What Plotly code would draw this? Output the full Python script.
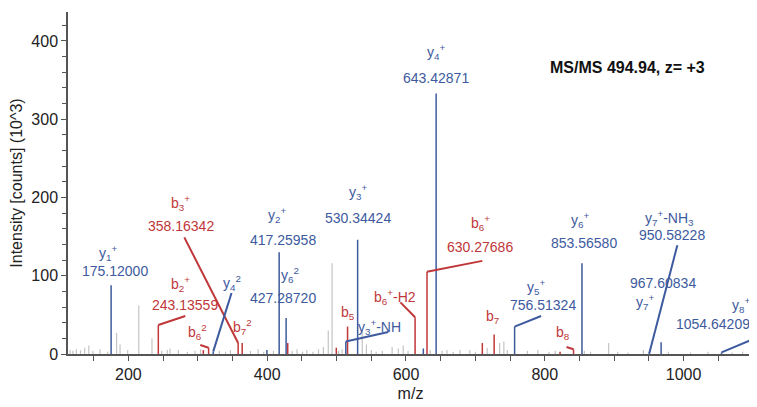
import plotly.graph_objects as go

# ---------------- data (m/z, intensity x10^3) ----------------
gray_mz = [116, 120, 125, 131, 137, 143, 149, 159, 170, 183, 188, 199, 215, 234, 248,
           256, 260, 272, 285, 296, 304, 331, 340, 347, 376, 387, 395, 409, 436, 443,
           451, 457, 466, 474, 481, 488, 493.5, 503, 508, 537, 543, 550, 557, 566, 580,
           589, 596, 603, 635, 652, 659, 668, 678, 692, 700, 717, 735, 741, 746, 775,
           790, 806, 815, 857, 866, 892, 905, 920, 942, 978, 1010, 1035, 1070, 1085]
gray_int = [5, 4, 6, 5, 8, 11, 4, 6, 3, 27, 12, 5, 62, 20, 4,
            5, 7, 5, 3, 4, 6, 4, 3, 5, 4, 6, 3, 4, 4, 6,
            3, 5, 3, 6, 9, 30, 116, 4, 6, 30, 12, 5, 3, 4, 9,
            7, 11, 4, 5, 4, 5, 3, 5, 5, 3, 8, 14, 16, 5, 4,
            5, 3, 4, 4, 3, 14, 3, 2, 5, 3, 2, 3, 2, 3]

blue_mz = [175.12, 322.2, 399.6, 417.26, 427.29, 513.3, 530.34, 625, 643.43, 756.51,
           853.57, 950.58, 967.61, 1054.64]
blue_int = [88, 3, 5, 130, 46, 16, 146, 7, 333, 35, 116, 2, 15, 2]

red_mz = [243.14, 308, 315.6, 358.16, 364, 429.6, 499.6, 515.8, 613.1, 630.28, 710,
          727, 822, 841.4]
red_int = [37, 5, 8, 14, 14, 14, 8, 35, 47, 105, 14, 25, 3, 6]

# leader lines: (peak m/z, peak intensity) -> (label m/z, label intensity)
blue_lead_from = [(322.2, 3), (513.3, 16), (756.51, 35), (950.58, 1), (1054.64, 2)]
blue_lead_to = [(348.6, 78), (574.5, 28), (794.7, 48.5), (991, 139), (1100, 19)]
red_lead_from = [(243.14, 37), (358.16, 14), (315.6, 8), (613.1, 47), (630.28, 105), (841.4, 6)]
red_lead_to = [(282, 48.5), (280.6, 149), (303.6, 11.5), (592, 66), (710, 119), (831.3, 9)]

# labels
label_text = ["y<sub>1</sub><sup>+</sup>", "175.12000",
              "b<sub>2</sub><sup>+</sup>", "243.13559",
              "b<sub>3</sub><sup>+</sup>", "358.16342",
              "b<sub>6</sub><sup>2</sup>", "y<sub>4</sub><sup>2</sup>", "b<sub>7</sub><sup>2</sup>",
              "y<sub>2</sub><sup>+</sup>", "417.25958",
              "y<sub>6</sub><sup>2</sup>", "427.28720",
              "y<sub>3</sub><sup>+</sup>", "530.34424",
              "b<sub>5</sub>", "y<sub>3</sub><sup>+</sup>-NH",
              "b<sub>6</sub><sup>+</sup>-H2",
              "b<sub>6</sub><sup>+</sup>", "630.27686",
              "y<sub>4</sub><sup>+</sup>", "643.42871",
              "b<sub>7</sub>",
              "y<sub>5</sub><sup>+</sup>", "756.51324",
              "b<sub>8</sub>",
              "y<sub>6</sub><sup>+</sup>", "853.56580",
              "y<sub>7</sub><sup>+</sup>-NH<sub>3</sub>", "950.58228",
              "967.60834", "y<sub>7</sub><sup>+</sup>",
              "y<sub>8</sub><sup>+</sup>", "1054.64209"]
label_mz = [170, 180.8,
            275, 281,
            275, 275.6,
            299, 350, 364,
            414, 423,
            433, 423,
            530.6, 530.6,
            516, 562,
            583.6,
            707, 707,
            643.4, 643.4,
            724,
            788, 798,
            826,
            851, 855.8,
            980, 984,
            969.6, 945,
            1082, 1042]
label_int = [129, 106,
             89, 62,
             193, 164,
             28, 91, 34,
             178, 146,
             101, 72,
             207, 174,
             52, 34,
             73,
             167, 137,
             386, 353,
             47,
             86, 63,
             27,
             171, 142,
             174, 152,
             91, 66,
             63, 38]
label_color = ["b", "b", "r", "r", "r", "r", "r", "b", "r", "b", "b", "b", "b", "b", "b",
               "r", "b", "r", "r", "r", "b", "b", "r", "b", "b", "r", "b", "b", "b", "b",
               "b", "b", "b", "b"]

BLUE = "#3d5a9e"
RED = "#c0373a"
GRAY = "#c4c4c4"
FONT = "Liberation Sans, Arial, sans-serif"


def stems(xs, ys):
    px, py = [], []
    for x, y in zip(xs, ys):
        px += [x, x, None]
        py += [0, y, None]
    return px, py


def segs(a, b):
    px, py = [], []
    for (x0, y0), (x1, y1) in zip(a, b):
        px += [x0, x1, None]
        py += [y0, y1, None]
    return px, py


fig = go.Figure()
gx, gy = stems(gray_mz, gray_int)
fig.add_trace(go.Scatter(x=gx, y=gy, mode="lines", line=dict(color=GRAY, width=1.2),
                         hoverinfo="skip", showlegend=False))
rx, ry = stems(red_mz, red_int)
fig.add_trace(go.Scatter(x=rx, y=ry, mode="lines", line=dict(color=RED, width=1.5),
                         hoverinfo="skip", showlegend=False))
bx, by = stems(blue_mz, blue_int)
fig.add_trace(go.Scatter(x=bx, y=by, mode="lines", line=dict(color=BLUE, width=1.5),
                         hoverinfo="skip", showlegend=False))
lx, ly = segs(red_lead_from, red_lead_to)
fig.add_trace(go.Scatter(x=lx, y=ly, mode="lines", line=dict(color=RED, width=2),
                         hoverinfo="skip", showlegend=False))
lx, ly = segs(blue_lead_from, blue_lead_to)
fig.add_trace(go.Scatter(x=lx, y=ly, mode="lines", line=dict(color=BLUE, width=2),
                         hoverinfo="skip", showlegend=False))

for t, x, y, c in zip(label_text, label_mz, label_int, label_color):
    fig.add_annotation(x=x, y=y, text=t, showarrow=False, xanchor="center", yanchor="middle",
                       font=dict(family=FONT, size=14, color=BLUE if c == "b" else RED))

fig.add_annotation(x=919, y=366, text="<b>MS/MS 494.94, z= +3</b>", showarrow=False,
                   font=dict(family=FONT, size=16, color="#111111"))

axis_common = dict(showline=True, linecolor="#555555", linewidth=1.5, showgrid=False,
                   zeroline=False, ticks="outside", tickcolor="#555555", ticklen=5,
                   tickfont=dict(family=FONT, size=16, color="#222222"))

fig.update_xaxes(range=[113, 1100], tick0=0, dtick=200,
                 minor=dict(dtick=50, ticks="outside", ticklen=5, tickcolor="#555555"),
                 title=dict(text="m/z", font=dict(family=FONT, size=16, color="#222222"),
                            standoff=6),
                 **axis_common)
fig.update_yaxes(range=[0, 437], tick0=0, dtick=100,
                 minor=dict(dtick=20, ticks="outside", ticklen=4, tickcolor="#555555"),
                 title=dict(text="Intensity [counts] (10^3)",
                            font=dict(family=FONT, size=16, color="#222222"), standoff=6),
                 **axis_common)

# page body adds an 8px offset; size the figure so the plot lands where the reference has it
fig.update_layout(width=749, height=399, margin=dict(l=60, r=4, t=4, b=53),
                  plot_bgcolor="white", paper_bgcolor="white", showlegend=False)

fig.write_html("out.html")
